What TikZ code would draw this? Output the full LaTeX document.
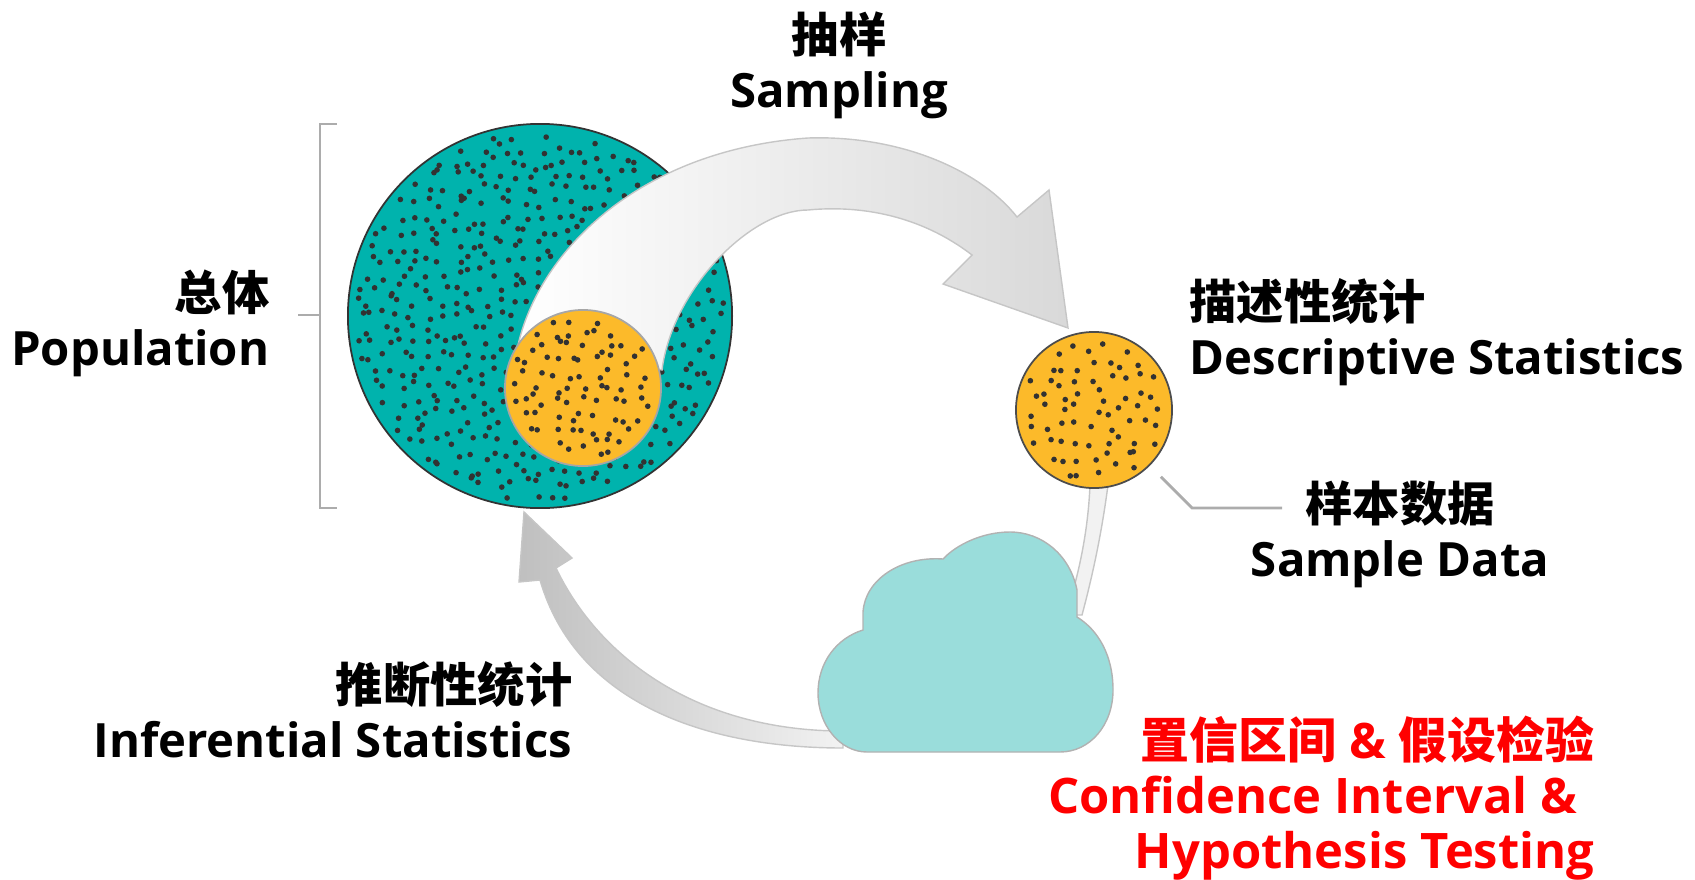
\documentclass[tikz,border=0pt]{standalone}
\usepackage{fontspec}
\setmainfont{Open Sans}[Scale=0.96]
\newfontfamily\cjk{Noto Sans CJK SC}[Scale=0.96]
\usetikzlibrary{calc}
\definecolor{popteal}{RGB}{0,179,173}
\definecolor{smporange}{RGB}{252,186,42}
\definecolor{cloudteal}{RGB}{154,221,219}
\definecolor{speckgray}{RGB}{50,50,50}
\newcommand{\zh}[1]{{\cjk #1}}
% specks on a jittered grid of pitch #4 inside a disc of radius #3 round (#1,#2)
\newcommand{\specks}[4]{%
  \pgfmathtruncatemacro\spn{#3/#4}%
  \foreach \i in {-\spn,...,\spn}{%
    \foreach \j in {-\spn,...,\spn}{%
      \pgfmathsetmacro\spx{\i*#4+0.9*#4*(rnd-0.5)}%
      \pgfmathsetmacro\spy{\j*#4+0.9*#4*(rnd-0.5)}%
      \pgfmathtruncatemacro\spin{((\spx/#3)^2+(\spy/#3)^2<1) ? 1 : 0}%
      \ifnum\spin=1 \fill[speck] (#1+\spx,#2+\spy) circle[radius=0.8pt];\fi
    }}}

\begin{document}
\begin{tikzpicture}[x=0.01cm,y=-0.01cm]
  \tikzstyle{every node}=[font=\bfseries\fontsize{14}{15.6}\selectfont, inner sep=0]
  \tikzstyle{blob}=[circle, inner sep=0, line width=0.5pt]
  \tikzstyle{speck}=[fill=speckgray]
  \tikzstyle{band}=[draw=gray!45, line width=0.4pt]
  \tikzstyle{leader}=[draw=gray!65, line width=0.8pt]
  \pgfmathsetseed{11}
  \useasboundingbox (0,0) rectangle (1695,879);
  %
  % population
  \node[blob, fill=popteal, draw=black!80, minimum size=3.84cm] (pop) at (540,316) {};
  \specks{540}{316}{185}{14}
  \draw[leader] (337,124) -- (320,124) -- (320,508) -- (337,508);
  \draw[leader] (298,315) -- (320,315);
  %
  % sampling arrow
  \path[band, left color=white, right color=black!15]
    (518,345) .. controls (540,250) and (640,150) .. (808,138)
    .. controls (900,135) and (980,170) .. (1017,217)
    -- (1049,190) -- (1068,328) -- (943,284) -- (972,255)
    .. controls (920,215) and (860,205) .. (808,210)
    .. controls (750,210) and (672,290) .. (662,370) -- cycle;
  \node[blob, fill=smporange, draw=gray!70, minimum size=1.56cm] (smp) at (583,388) {};
  \specks{583}{388}{72}{14}
  %
  % sample data
  \path[band, fill=gray!10]
    (1090,485) .. controls (1088,530) and (1080,570) .. (1066,615)
    -- (1082,615) .. controls (1094,570) and (1102,530) .. (1108,485) -- cycle;
  \node[blob, fill=smporange, draw=black!70, minimum size=1.56cm] (desc) at (1094,410) {};
  \specks{1094}{410}{72}{15}
  %
  % inference arrow and cloud
  \path[band, left color=black!25, right color=black!5]
    (843,748) .. controls (700,748) and (575,700) .. (540,580)
    -- (519,582) -- (524,512) -- (572,558) -- (556,568)
    .. controls (600,660) and (700,731) .. (843,731) -- cycle;
  \path[draw=gray!60, line width=0.4pt, fill=cloudteal]
    (867,752) -- (1060,752)
    .. controls (1090,752) and (1113,725) .. (1113,690)
    .. controls (1113,655) and (1098,630) .. (1077,617) -- (1077,590)
    .. controls (1070,555) and (1042,532) .. (1010,532)
    .. controls (982,532) and (956,545) .. (943,559)
    .. controls (900,556) and (865,580) .. (863,612) -- (863,630)
    .. controls (837,638) and (818,662) .. (818,693)
    .. controls (818,725) and (840,752) .. (867,752) -- cycle;
  %
  \coordinate (tk) at (1282,508);
  \draw[leader] ($(desc.-45)+(11,11)$) -- (1192,508) -- (tk);
  %
  \node[anchor=east, align=right] (popl) at (270,323) {\zh{总体}\\Population};
  \node[align=center] (sampl) at (839,65) {\zh{抽样}\\Sampling};
  \node[anchor=west, align=left] (descl) at (1189,332) {\zh{描述性统计}\\Descriptive Statistics};
  \node[align=center] (datal) at (1400,534) {\zh{样本数据}\\Sample Data};
  \node[anchor=east, align=right] (infl) at (573,710) {\zh{推断性统计}\\Inferential Statistics};
  \node[anchor=east, align=right, text=red, font=\bfseries\fontsize{14.5}{15.6}\selectfont] (cil) at (1595,798)
    {\zh{置信区间} \& \zh{假设检验}\\Confidence Interval \&\kern0.35em\\Hypothesis Testing};
\end{tikzpicture}
\end{document}
